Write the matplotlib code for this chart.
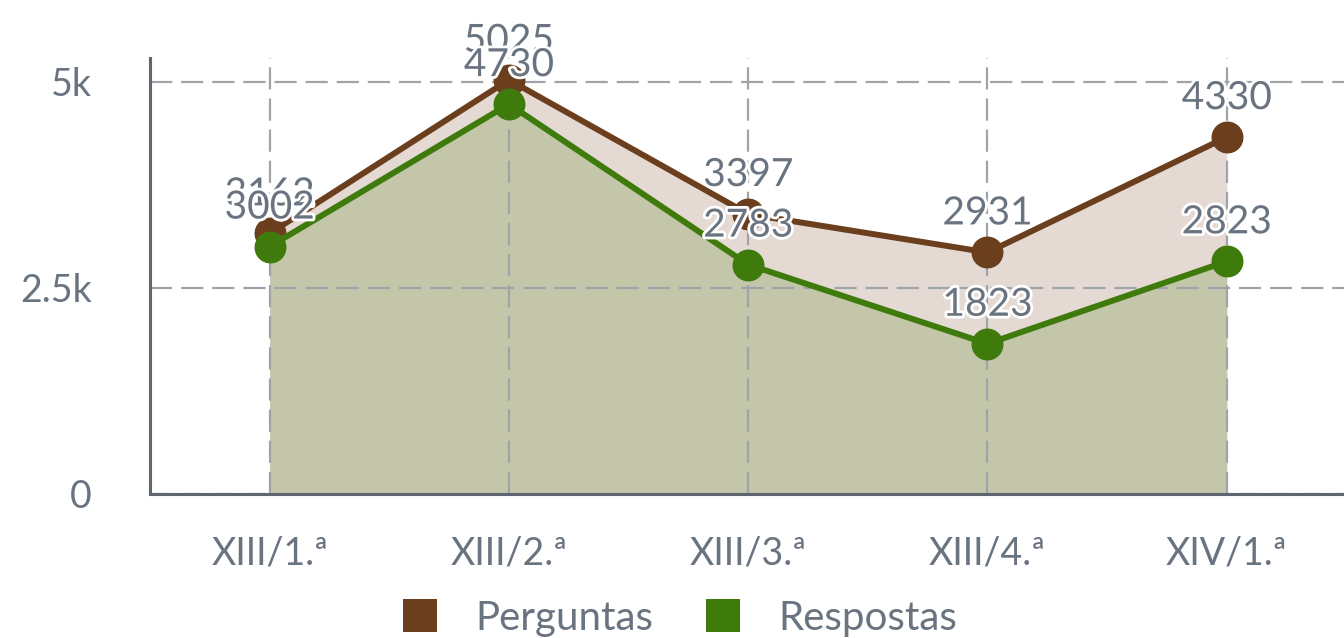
import matplotlib
matplotlib.use('Agg')
import matplotlib.pyplot as plt
import matplotlib.patheffects as pe
from matplotlib.patches import FancyBboxPatch, Patch
import numpy as np

# dados
categorias = ['XIII/1.ª', 'XIII/2.ª', 'XIII/3.ª', 'XIII/4.ª', 'XIV/1.ª']
perguntas = [3162, 5025, 3397, 2931, 4330]
respostas = [3002, 4730, 2783, 1823, 2823]
yticks = [0, 2500, 5000]
ytick_labels = ['0', '2.5k', '5k']

cor_perg = '#6b3f1d'
cor_resp = '#3f7b0c'
cor_texto = '#6a7480'
cor_eixo = '#5f6670'

plt.rcParams['font.family'] = ['Lato', 'DejaVu Sans']

fig = plt.figure(figsize=(13.44, 6.38), dpi=100)
ax = fig.add_axes([150 / 1344, 1 - 494 / 638, 1 - 150 / 1344, (494 - 58) / 638])

x = np.arange(len(categorias))

# areas
ax.fill_between(x, 0, perguntas, color='#e4dad3', zorder=1, linewidth=0)
ax.fill_between(x, 0, respostas, color='#c3c6a8', zorder=1.5, linewidth=0)

# grelha por cima das areas
ax.set_axisbelow(False)
ax.grid(True, color='#a0a4a8', linewidth=1.6, linestyle=(0, (10, 4)), zorder=2)
for gl in ax.get_xgridlines() + ax.get_ygridlines():
    gl.set_zorder(2)

ax.plot(x, perguntas, color=cor_perg, linewidth=4.3, marker='o', markersize=22, zorder=4)
ax.plot(x, respostas, color=cor_resp, linewidth=4.3, marker='o', markersize=22, zorder=5)

stroke = [pe.withStroke(linewidth=4, foreground='white')]
for serie in (perguntas, respostas):
    for xi, v in zip(x, serie):
        ax.annotate(str(v), (xi, v), xytext=(0, 21), textcoords='offset pixels',
                    ha='center', va='bottom', fontsize=28, color=cor_texto,
                    path_effects=stroke, zorder=6)

ax.set_xlim(-0.5, 4.49)
ax.set_ylim(0, 5290)
ax.set_xticks(x)
ax.set_xticklabels(categorias)
ax.set_yticks(yticks)
ax.set_yticklabels(ytick_labels)
ax.tick_params(axis='both', length=0, labelsize=27, colors=cor_texto)
ax.tick_params(axis='x', pad=30)
ax.tick_params(axis='y', pad=42)

for lado in ('top', 'right'):
    ax.spines[lado].set_visible(False)
for lado in ('left', 'bottom'):
    ax.spines[lado].set_color(cor_eixo)
    ax.spines[lado].set_linewidth(2.2)
    ax.spines[lado].set_zorder(3)

handles = [Patch(facecolor=cor_perg, label='Perguntas'),
           Patch(facecolor=cor_resp, label='Respostas')]
fig.legend(handles=handles, loc='center', bbox_to_anchor=(680 / 1344, 1 - 618 / 638),
           ncol=2, frameon=False, fontsize=29, labelcolor=cor_texto,
           handlelength=0.85, handleheight=0.85, handletextpad=0.95, columnspacing=1.3)

fig.savefig('out.png', dpi=100)
